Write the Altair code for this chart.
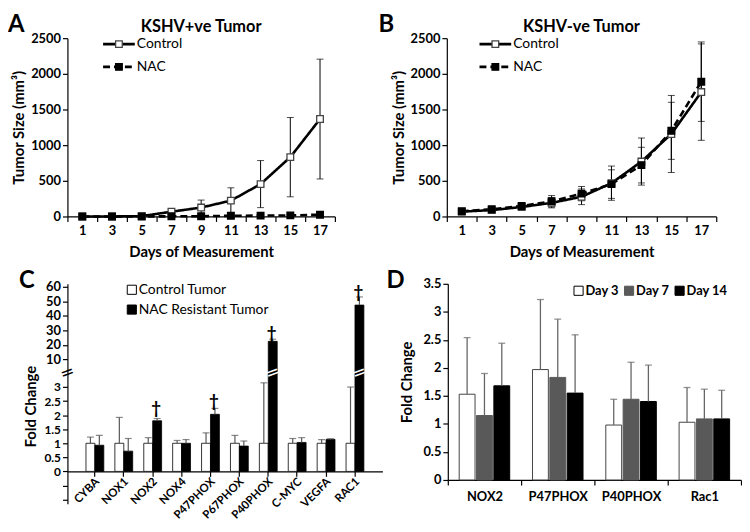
import altair as alt
import pandas as pd

FONT = "Lato"

# ---------------- Panels A & B : tumour growth ----------------
days = ["1", "3", "5", "7", "9", "11", "13", "15", "17"]
groups_ab = ["Control", "NAC"]

a_control = [0, 0, 5, 67, 125, 222, 454, 832, 1366]
a_control_err = [2, 2, 5, 20, 105, 180, 330, 556, 840]
a_nac = [0, 0, 0, 2, 3, 10, 12, 15, 25]
a_nac_err = [1, 1, 1, 2, 3, 5, 6, 8, 12]

b_control = [68, 89, 133, 191, 276, 467, 770, 1157, 1744]
b_control_err = [10, 15, 20, 70, 110, 240, 330, 540, 676]
b_nac = [72, 102, 147, 213, 320, 454, 720, 1201, 1890]
b_nac_err = [10, 15, 20, 80, 100, 200, 250, 400, 557]

# ---------------- Panel C : gene expression, NAC resistant ----------------
genes_c = ["CYBA", "NOX1", "NOX2", "NOX4", "P47PHOX", "P67PHOX", "P40PHOX", "C-MYC", "VEGFA", "RAC1"]
groups_c = ["Control Tumor", "NAC Resistant Tumor"]
c_control = [1, 1, 1, 1, 1, 1, 1, 1, 1, 1]
c_control_err = [0.22, 0.92, 0.2, 0.1, 0.37, 0.28, 2.15, 0.17, 0.13, 2.0]
c_nac = [0.93, 0.72, 1.8, 1.0, 2.03, 0.9, 22.5, 1.03, 1.14, 47.4]
c_nac_err = [0.35, 0.45, 0.08, 0.13, 0.21, 0.18, 1.5, 0.17, 0.02, 5.6]
dagger_genes = ["NOX2", "P47PHOX", "P40PHOX", "RAC1"]
dagger_y = [2.2, 2.45, 27.5, 55.5]

# ---------------- Panel D : time course ----------------
genes_d = ["NOX2", "P47PHOX", "P40PHOX", "Rac1"]
days_d = ["Day 3", "Day 7", "Day 14"]
d_day3 = [1.53, 1.97, 0.98, 1.03]
d_day3_err = [1.01, 1.25, 0.46, 0.62]
d_day7 = [1.15, 1.83, 1.44, 1.09]
d_day7_err = [0.75, 1.04, 0.66, 0.53]
d_day14 = [1.68, 1.55, 1.40, 1.09]
d_day14_err = [0.76, 1.04, 0.65, 0.51]

one = pd.DataFrame({"k": [0]})
ERR_GRAY = "#555555"


def text_mark(txt, dx, dy, size, bold=True, align="left", baseline="alphabetic", angle=0, color="black",
              font=FONT):
    props = dict(text=txt, font=font, fontSize=size, fontWeight="bold" if bold else "normal",
                 align=align, baseline=baseline, color=color)
    if angle:
        props["angle"] = angle
    return alt.Chart(one).mark_text(**props).encode(x=alt.value(dx), y=alt.value(dy))


# ======================= A / B =======================
AB_W = [270, 272]
AB_H = 180


def growth_panel(ctrl, ctrl_err, nac, nac_err, title, letter, width, letter_x, leg_x0):
    rows = []
    for g, vals, errs in ((groups_ab[0], ctrl, ctrl_err), (groups_ab[1], nac, nac_err)):
        for d, v, e in zip(days, vals, errs):
            rows.append({"day": d, "group": g, "mean": v, "lo": max(v - e, 0), "hi": v + e})
    df = pd.DataFrame(rows)

    x = alt.X("day:N", sort=days, title="Days of Measurement",
              scale=alt.Scale(type="band", domain=days, paddingInner=0, paddingOuter=0),
              axis=alt.Axis(labelAngle=0, tickBand="extent", tickSize=5, labelPadding=3,
                            titlePadding=7))

    def yenc(field):
        return alt.Y(f"{field}:Q", title="Tumor Size (mm³)",
                     scale=alt.Scale(domain=[0, 2500]),
                     axis=alt.Axis(values=[0, 500, 1000, 1500, 2000, 2500], tickSize=5, format="d",
                                   grid=False, titlePadding=4, labelOverlap=False))

    base = alt.Chart(df)
    err = base.mark_rule(color="black", strokeWidth=1).encode(x=x, y=yenc("lo"), y2="hi:Q")
    cap_hi = base.mark_tick(color="black", size=7, thickness=1).encode(x=x, y=yenc("hi"))
    cap_lo = base.mark_tick(color="black", size=7, thickness=1).encode(x=x, y=yenc("lo"))
    dash = alt.StrokeDash("group:N", scale=alt.Scale(domain=groups_ab, range=[[1, 0], [7, 4]]), legend=None)
    line = base.mark_line(color="black", strokeWidth=2.6).encode(x=x, y=yenc("mean"), strokeDash=dash)
    pts = base.mark_point(shape="square", size=45, strokeWidth=1.3, opacity=1, fillOpacity=1).encode(
        x=x, y=yenc("mean"),
        fill=alt.Fill("group:N", scale=alt.Scale(domain=groups_ab, range=["white", "black"]), legend=None),
        stroke=alt.Stroke("group:N", scale=alt.Scale(domain=groups_ab, range=["#444444", "black"]), legend=None),
    )

    layers = [err, cap_hi, cap_lo, line, pts]
    for i, (g, dsh, fill) in enumerate(((groups_ab[0], [1, 0], "white"), (groups_ab[1], [7, 4], "black"))):
        ly = 6 + i * 23
        layers.append(alt.Chart(one).mark_rule(color="black", strokeWidth=2.6, strokeDash=dsh).encode(
            x=alt.value(leg_x0), x2=alt.value(leg_x0 + 32), y=alt.value(ly)))
        layers.append(alt.Chart(one).mark_point(shape="square", size=45, strokeWidth=1.3, opacity=1,
                                                fill=fill, fillOpacity=1,
                                                stroke="#444444" if fill == "white" else "black").encode(
            x=alt.value(leg_x0 + 16), y=alt.value(ly)))
        layers.append(text_mark(g, leg_x0 + 34, ly, 14, bold=False, baseline="middle"))
    layers.append(text_mark(letter, letter_x, -6, 24))
    layers.append(text_mark(title, width / 2, -6, 16.5, align="center"))

    return alt.layer(*layers).properties(width=width, height=AB_H)


panel_a = growth_panel(a_control, a_control_err, a_nac, a_nac_err, "KSHV+ve Tumor", "A", AB_W[0], -60, 36)
panel_b = growth_panel(b_control, b_control_err, b_nac, b_nac_err, "KSHV-ve Tumor", "B", AB_W[1], -69, 33)

# ======================= C =======================
C_BREAK = 3.5
C_W = 318
C_TOP_H = 90
C_BOT_H = 132
C_BOT_MIN = -1.15
C_BAR_W = 9
C_FILLS = ["white", "black"]
cx_scale = alt.Scale(type="band", domain=genes_c, paddingInner=0, paddingOuter=0.45)
top_y_scale = alt.Scale(domain=[0.8, 62])
bot_y_scale = alt.Scale(domain=[C_BOT_MIN, C_BREAK])
zero_px = C_BOT_H * C_BREAK / (C_BREAK - C_BOT_MIN)
zero_offset = zero_px - C_BOT_H


def ytop(field):
    return alt.Y(f"{field}:Q", scale=top_y_scale, title=None,
                 axis=alt.Axis(values=[10, 20, 30, 40, 50, 60], tickSize=5, grid=False, labelOverlap=False,
                               labelPadding=2))


def ybot(field):
    return alt.Y(f"{field}:Q", scale=bot_y_scale, title=None,
                 axis=alt.Axis(values=[-1, -0.5, 0, 0.5, 1, 1.5, 2, 2.5, 3], tickSize=5, grid=False,
                               labelExpr="datum.value < 0 ? '' : toString(datum.value)",
                               labelOverlap=False, labelPadding=2, labelFontSize=12))


xt = alt.X("gene:N", scale=cx_scale, axis=None)
xb = alt.X("gene:N", scale=cx_scale, title=None,
           axis=alt.Axis(labels=False, offset=zero_offset, tickSize=5))

top_layers, bot_layers = [], []
for i, (g, vals, errs, fill) in enumerate(((groups_c[0], c_control, c_control_err, C_FILLS[0]),
                                           (groups_c[1], c_nac, c_nac_err, C_FILLS[1]))):
    off = (i - 0.5) * C_BAR_W
    gdf = pd.DataFrame({"gene": genes_c, "value": vals, "hi": [v + e for v, e in zip(vals, errs)]})
    hi_df = gdf[gdf["value"] > C_BREAK]
    lo_err_df = gdf[gdf["hi"] <= C_BREAK]
    bar_kw = dict(clip=True, fill=fill, stroke="black", strokeWidth=0.8, width=C_BAR_W, xOffset=off)
    if len(hi_df):
        top_layers += [
            alt.Chart(hi_df).mark_bar(**bar_kw).encode(x=xt, y=ytop("value")),
            alt.Chart(hi_df).mark_rule(color=ERR_GRAY, strokeWidth=1.2, xOffset=off).encode(
                x=xt, y=ytop("value"), y2="hi:Q"),
            alt.Chart(hi_df).mark_tick(color=ERR_GRAY, size=7, thickness=1.2, xOffset=off).encode(
                x=xt, y=ytop("hi")),
        ]
    bot_layers += [
        alt.Chart(gdf).mark_bar(**bar_kw).encode(x=xb, y=ybot("value")),
        alt.Chart(lo_err_df).mark_rule(color=ERR_GRAY, strokeWidth=1.2, xOffset=off).encode(
            x=xb, y=ybot("value"), y2="hi:Q"),
        alt.Chart(lo_err_df).mark_tick(color=ERR_GRAY, size=7, thickness=1.2, xOffset=off).encode(
            x=xb, y=ybot("hi")),
    ]
    if len(hi_df):
        brk = hi_df.assign(brk=C_BREAK)
        bot_layers.append(alt.Chart(brk).mark_text(text="=", font="DejaVu Sans", fontSize=17, color="white",
                                                   angle=340, xOffset=off).encode(x=xb, y=ybot("brk")))

dag_df = pd.DataFrame({"gene": dagger_genes, "y": dagger_y})
dag_kw = dict(text="†", font=FONT, fontSize=17, fontWeight="bold", color="black", xOffset=C_BAR_W / 2 - 1)
top_layers.append(alt.Chart(dag_df[dag_df["y"] > C_BREAK]).mark_text(**dag_kw).encode(x=xt, y=ytop("y")))
bot_layers.append(alt.Chart(dag_df[dag_df["y"] <= C_BREAK]).mark_text(**dag_kw).encode(x=xb, y=ybot("y")))

# rotated category labels, positioned by the band scale
lab_df = pd.DataFrame({"gene": genes_c})
bot_layers.append(alt.Chart(lab_df).mark_text(
    angle=315, align="right", baseline="middle", font=FONT, fontSize=11.5, fontWeight="bold", color="black",
    xOffset=3).encode(x=xb, y=alt.value(zero_px + 9), text="gene:N"))

for i, (g, fill) in enumerate(zip(groups_c, C_FILLS)):
    ly = 6 + i * 20
    top_layers.append(alt.Chart(one).mark_point(shape="square", size=85, opacity=1, fill=fill, fillOpacity=1,
                                                stroke="black", strokeWidth=1).encode(
        x=alt.value(65), y=alt.value(ly)))
    top_layers.append(text_mark(g, 72, ly, 14, bold=False, baseline="middle"))
top_layers.append(text_mark("C", -49, 4, 24))

bot_layers.append(alt.Chart(one).mark_text(text="=", font="DejaVu Sans", fontSize=17, color="black",
                                           angle=340).encode(x=alt.value(0), y=alt.value(0)))
bot_layers.append(text_mark("Fold Change", -37, 34, 15, align="center", baseline="middle", angle=270))

c_top = alt.layer(*top_layers).properties(width=C_W, height=C_TOP_H)
c_bot = alt.layer(*bot_layers).properties(width=C_W, height=C_BOT_H)
panel_c = alt.vconcat(c_top, c_bot, spacing=0, bounds="flush").resolve_scale(
    x="independent", y="independent").resolve_axis(x="independent", y="independent")

# ======================= D =======================
D_COLORS = ["white", "#595959", "black"]
D_STROKES = ["#444444", "#595959", "black"]
D_BAR_W = 16
D_STEP = 17.5
dx = alt.X("gene:N", scale=alt.Scale(type="band", domain=genes_d, paddingInner=0, paddingOuter=0),
           title=None, axis=alt.Axis(labelAngle=0, tickBand="extent", tickSize=5, labelPadding=6))


def yd(field):
    return alt.Y(f"{field}:Q", scale=alt.Scale(domain=[0, 3.5]), title="Fold Change",
                 axis=alt.Axis(values=[0, 0.5, 1, 1.5, 2, 2.5, 3, 3.5], tickSize=5, grid=False,
                               labelExpr="toString(datum.value)", titlePadding=8, labelOverlap=False))


d_layers = []
for i, (dd, vals, errs) in enumerate(((days_d[0], d_day3, d_day3_err), (days_d[1], d_day7, d_day7_err),
                                      (days_d[2], d_day14, d_day14_err))):
    off = (i - 1) * D_STEP
    gdf = pd.DataFrame({"gene": genes_d, "value": vals, "hi": [v + e for v, e in zip(vals, errs)]})
    d_layers += [
        alt.Chart(gdf).mark_bar(fill=D_COLORS[i], stroke=D_STROKES[i], strokeWidth=1, width=D_BAR_W,
                                xOffset=off).encode(x=dx, y=yd("value")),
        alt.Chart(gdf).mark_rule(color="#666666", strokeWidth=1.3, xOffset=off).encode(
            x=dx, y=yd("value"), y2="hi:Q"),
        alt.Chart(gdf).mark_tick(color="#666666", size=7, thickness=1.3, xOffset=off).encode(
            x=dx, y=yd("hi")),
    ]
for i, (dd, col) in enumerate(zip(days_d, D_COLORS)):
    lx = 132 + i * 51
    d_layers.append(alt.Chart(one).mark_point(shape="square", size=85, opacity=1, fill=col, fillOpacity=1,
                                              stroke="black" if col == "white" else col, strokeWidth=1).encode(
        x=alt.value(lx), y=alt.value(7)))
    d_layers.append(text_mark(dd, lx + 7, 7, 13, baseline="middle"))
d_layers.append(text_mark("D", -62, 4, 24))
panel_d = alt.layer(*d_layers).properties(width=296, height=198)

top_row = alt.hconcat(panel_a, panel_b, spacing=43)
bottom_row = alt.hconcat(panel_c, panel_d, spacing=4)

chart = alt.vconcat(top_row, bottom_row, spacing=10).properties(
    padding={"left": 0, "top": 3, "right": 0, "bottom": 0}
).configure_view(stroke=None).configure_axis(
    labelFont=FONT, labelFontSize=13, labelFontWeight="bold", labelColor="black",
    titleFont=FONT, titleFontSize=15, titleFontWeight="bold", titleColor="black",
    domainColor="black", tickColor="black", domainWidth=1.2, tickWidth=1.2,
)

chart.save("out.html", embed_options={"renderer": "svg", "actions": False})
